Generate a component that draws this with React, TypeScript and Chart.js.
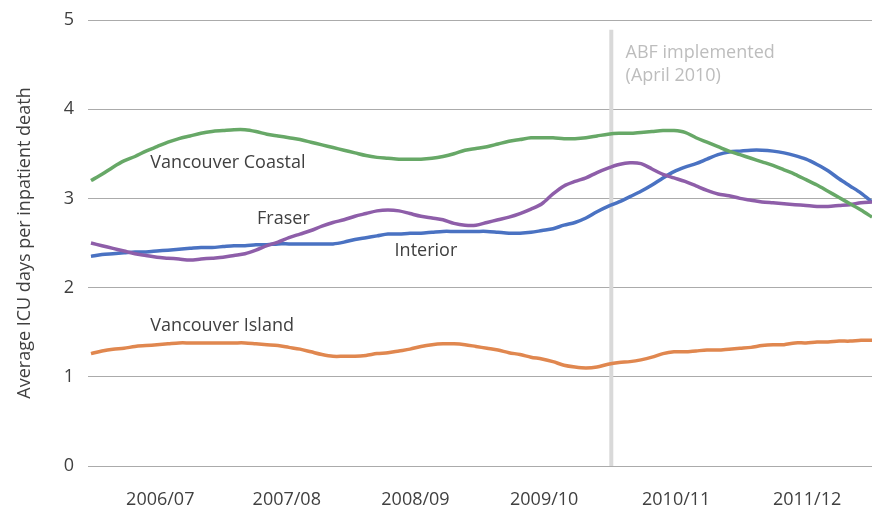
import React, { useEffect, useRef } from "react";
import { Chart, registerables } from "chart.js";

Chart.register(...registerables);

const FONT = "'Open Sans', 'Noto Sans', sans-serif";

// Fiscal year tick labels and their positions (in month units, month 0 = April 2006)
const yearLabels = ["2006/07", "2007/08", "2008/09", "2009/10", "2010/11", "2011/12"];
const yearTickPos = [6.3, 17.8, 29.5, 41.2, 53.2, 65.1];

const abfMonth = 47.3;

const vancouverCoastal = [
  3.20, 3.27, 3.35, 3.42, 3.47, 3.53, 3.58, 3.63, 3.67, 3.70, 3.73, 3.75,
  3.76, 3.77, 3.77, 3.75, 3.72, 3.70, 3.68, 3.66, 3.63, 3.60, 3.57, 3.54,
  3.51, 3.48, 3.46, 3.45, 3.44, 3.44, 3.44, 3.45, 3.47, 3.50, 3.54, 3.56,
  3.58, 3.61, 3.64, 3.66, 3.68, 3.68, 3.68, 3.67, 3.67, 3.68, 3.70, 3.72,
  3.73, 3.73, 3.74, 3.75, 3.76, 3.76, 3.74, 3.68, 3.63, 3.58, 3.53, 3.49,
  3.45, 3.41, 3.37, 3.32, 3.27, 3.21, 3.15, 3.08, 3.01, 2.94, 2.87, 2.79,
];

const interior = [
  2.35, 2.37, 2.38, 2.39, 2.40, 2.40, 2.41, 2.42, 2.43, 2.44, 2.45, 2.45,
  2.46, 2.47, 2.47, 2.48, 2.48, 2.49, 2.49, 2.49, 2.49, 2.49, 2.49, 2.51,
  2.54, 2.56, 2.58, 2.60, 2.60, 2.61, 2.61, 2.62, 2.63, 2.63, 2.63, 2.63,
  2.63, 2.62, 2.61, 2.61, 2.62, 2.64, 2.66, 2.70, 2.73, 2.78, 2.85, 2.91,
  2.96, 3.02, 3.08, 3.15, 3.23, 3.30, 3.35, 3.39, 3.44, 3.49, 3.52, 3.53,
  3.54, 3.54, 3.53, 3.51, 3.48, 3.44, 3.38, 3.31, 3.22, 3.14, 3.06, 2.96,
];

const fraser = [
  2.50, 2.47, 2.44, 2.41, 2.38, 2.36, 2.34, 2.33, 2.32, 2.31, 2.32, 2.33,
  2.34, 2.36, 2.38, 2.42, 2.47, 2.51, 2.56, 2.60, 2.64, 2.69, 2.73, 2.76,
  2.80, 2.83, 2.86, 2.87, 2.86, 2.83, 2.80, 2.78, 2.76, 2.72, 2.70, 2.70,
  2.73, 2.76, 2.79, 2.83, 2.88, 2.94, 3.05, 3.14, 3.19, 3.23, 3.29, 3.34,
  3.38, 3.40, 3.39, 3.33, 3.27, 3.23, 3.19, 3.14, 3.09, 3.05, 3.03, 3.00,
  2.98, 2.96, 2.95, 2.94, 2.93, 2.92, 2.91, 2.91, 2.92, 2.93, 2.95, 2.96,
];

const vancouverIsland = [
  1.26, 1.29, 1.31, 1.32, 1.34, 1.35, 1.36, 1.37, 1.38, 1.38, 1.38, 1.38,
  1.38, 1.38, 1.38, 1.37, 1.36, 1.35, 1.33, 1.31, 1.28, 1.25, 1.23, 1.23,
  1.23, 1.24, 1.26, 1.27, 1.29, 1.31, 1.34, 1.36, 1.37, 1.37, 1.36, 1.34,
  1.32, 1.30, 1.27, 1.25, 1.22, 1.20, 1.17, 1.13, 1.11, 1.10, 1.11, 1.14,
  1.16, 1.17, 1.19, 1.22, 1.26, 1.28, 1.28, 1.29, 1.30, 1.30, 1.31, 1.32,
  1.33, 1.35, 1.36, 1.36, 1.38, 1.38, 1.39, 1.39, 1.40, 1.40, 1.41, 1.41,
];

const seriesNames = ["Vancouver Coastal", "Fraser", "Interior", "Vancouver Island"];
const seriesValues = [vancouverCoastal, fraser, interior, vancouverIsland];
const seriesColors = ["#67a867", "#8e5ea9", "#4a72c2", "#e0874f"];

// Inline label anchors [month, value]
const labelAnchors: [number, number][] = [
  [5.4, 3.40],
  [15.1, 2.77],
  [27.6, 2.41],
  [5.4, 1.57],
];

const abfText = ["ABF implemented", "(April 2010)"];
const abfTextAnchor: [number, number] = [48.6, 4.63];

const annotationPlugin = {
  id: "annotations",
  beforeDatasetsDraw(chart: any) {
    const { ctx, scales, chartArea } = chart;
    const x = scales.x.getPixelForValue(abfMonth);
    const yTop = scales.y.getPixelForValue(4.89);
    ctx.save();
    ctx.strokeStyle = "#d9d9d9";
    ctx.lineWidth = 4;
    ctx.beginPath();
    ctx.moveTo(x, yTop);
    ctx.lineTo(x, chartArea.bottom);
    ctx.stroke();
    ctx.restore();
  },
  afterDatasetsDraw(chart: any) {
    const { ctx, scales } = chart;
    ctx.save();
    ctx.font = `18px ${FONT}`;
    ctx.textAlign = "left";
    ctx.textBaseline = "middle";
    ctx.fillStyle = "#404040";
    seriesNames.forEach((name, i) => {
      const [m, v] = labelAnchors[i];
      ctx.fillText(name, scales.x.getPixelForValue(m), scales.y.getPixelForValue(v));
    });
    ctx.fillStyle = "#bdbdbd";
    const ax = scales.x.getPixelForValue(abfTextAnchor[0]);
    const ay = scales.y.getPixelForValue(abfTextAnchor[1]);
    abfText.forEach((t, i) => ctx.fillText(t, ax, ay + i * 23));
    ctx.restore();
  },
};

export default function App() {
  const ref = useRef<HTMLCanvasElement | null>(null);

  useEffect(() => {
    if (!ref.current) return;
    const chart = new Chart(ref.current, {
      type: "line",
      data: {
        datasets: seriesNames.map((name, s) => ({
          label: name,
          data: seriesValues[s].map((v, i) => ({ x: i, y: v })),
          borderColor: seriesColors[s],
          backgroundColor: seriesColors[s],
          borderWidth: 3.5,
          pointRadius: 0,
          tension: 0.3,
          fill: false,
        })),
      },
      options: {
        animation: false,
        responsive: false,
        devicePixelRatio: 1,
        layout: { padding: { top: 20, left: 10, right: 0, bottom: 0 } },
        plugins: {
          legend: { display: false },
          tooltip: { enabled: false },
        },
        scales: {
          x: {
            type: "linear",
            min: -0.27,
            max: 71,
            grid: { display: false },
            border: { display: false },
            afterBuildTicks: (axis: any) => {
              axis.ticks = yearTickPos.map((v) => ({ value: v }));
            },
            afterFit: (axis: any) => {
              axis.height = 40;
              axis.paddingLeft = 0;
              axis.paddingRight = 0;
            },
            ticks: {
              autoSkip: false,
              maxRotation: 0,
              padding: 15,
              color: "#404040",
              font: { family: FONT, size: 18 },
              callback: (_v: any, i: number) => yearLabels[i],
            },
          },
          y: {
            min: 0,
            max: 5,
            grid: { color: "#ababab", lineWidth: 1, drawTicks: false },
            border: { display: false },
            afterFit: (axis: any) => {
              axis.width = 78;
              axis.paddingTop = 0;
              axis.paddingBottom = 0;
            },
            ticks: {
              stepSize: 1,
              padding: 14,
              color: "#404040",
              font: { family: FONT, size: 18 },
            },
            title: {
              display: true,
              text: "Average ICU days per inpatient death",
              color: "#404040",
              font: { family: FONT, size: 18 },
            },
          },
        },
      },
      plugins: [annotationPlugin],
    });
    return () => chart.destroy();
  }, []);

  return (
    <div style={{ position: "fixed", left: 0, top: 0, width: 872, height: 506, background: "#fff" }}>
      <canvas ref={ref} width={872} height={506} />
    </div>
  );
}
